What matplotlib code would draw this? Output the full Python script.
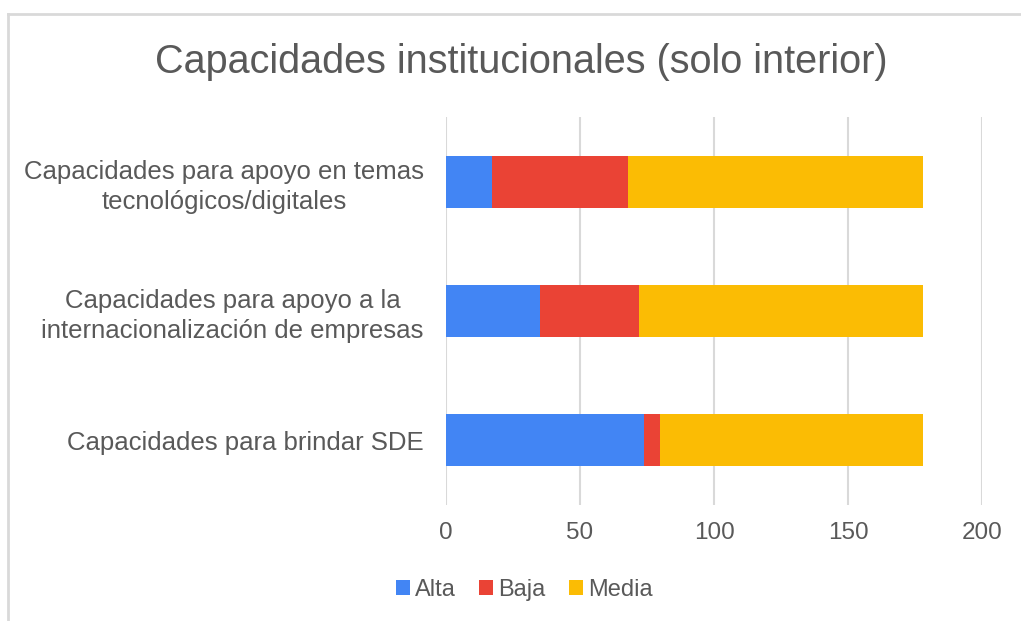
import matplotlib.pyplot as plt
import matplotlib.lines as mlines
import numpy as np

plt.rcParams['font.family'] = ['Liberation Sans', 'DejaVu Sans']

# Data (top to bottom as shown in chart)
categories = [
    "Capacidades para apoyo en temas\ntecnológicos/digitales",
    "Capacidades para apoyo a la\ninternacionalización de empresas",
    "Capacidades para brindar SDE",
]
alta = [17, 35, 74]
baja = [51, 37, 6]
media = [110, 106, 98]
series_names = ["Alta", "Baja", "Media"]
colors = ["#4285F4", "#EA4335", "#FBBC04"]
xticks = [0, 50, 100, 150, 200]

text_color = "#595959"
grid_color = "#d9d9d9"

fig = plt.figure(figsize=(10.21, 6.21), dpi=100)
ax = fig.add_axes([446 / 1021, 1 - 505 / 621, (982 - 446) / 1021, (505 - 117) / 621])

y = np.arange(len(categories))
left = np.zeros(len(categories))
for name, vals, col in zip(series_names, [alta, baja, media], colors):
    ax.barh(y, vals, left=left, height=0.4, color=col, label=name, zorder=3)
    left = left + np.array(vals)

ax.set_ylim(len(categories) - 0.5, -0.5)
ax.set_xlim(0, 200)
ax.set_xticks(xticks)
ax.set_yticks(y)
ax.set_yticklabels(categories, multialignment="center", linespacing=1.3, fontsize=18.5)
ax.tick_params(axis="both", length=0, colors=text_color)
ax.tick_params(axis="x", pad=12, labelsize=17.5)
ax.tick_params(axis="y", pad=16)
ax.grid(axis="x", color=grid_color, linewidth=1.5, zorder=0)
for s in ax.spines.values():
    s.set_visible(False)

fig.text(521 / 1021, 1 - 62 / 621, "Capacidades institucionales (solo interior)",
         ha="center", va="center", fontsize=28.5, color=text_color)

ax.legend(loc="center", bbox_to_anchor=(524 / 1021, 1 - 590 / 621),
          bbox_transform=fig.transFigure, ncol=3, frameon=False,
          fontsize=17, labelcolor=text_color, handlelength=0.6,
          handleheight=0.6, handletextpad=0.2, columnspacing=1.0)

# light frame (top and left edges)
fig.add_artist(mlines.Line2D([8 / 1021, 1], [1 - 14 / 621, 1 - 14 / 621],
                             color=grid_color, linewidth=2, transform=fig.transFigure))
fig.add_artist(mlines.Line2D([8 / 1021, 8 / 1021], [0, 1 - 14 / 621],
                             color=grid_color, linewidth=2, transform=fig.transFigure))

fig.savefig("out.png", dpi=100)
